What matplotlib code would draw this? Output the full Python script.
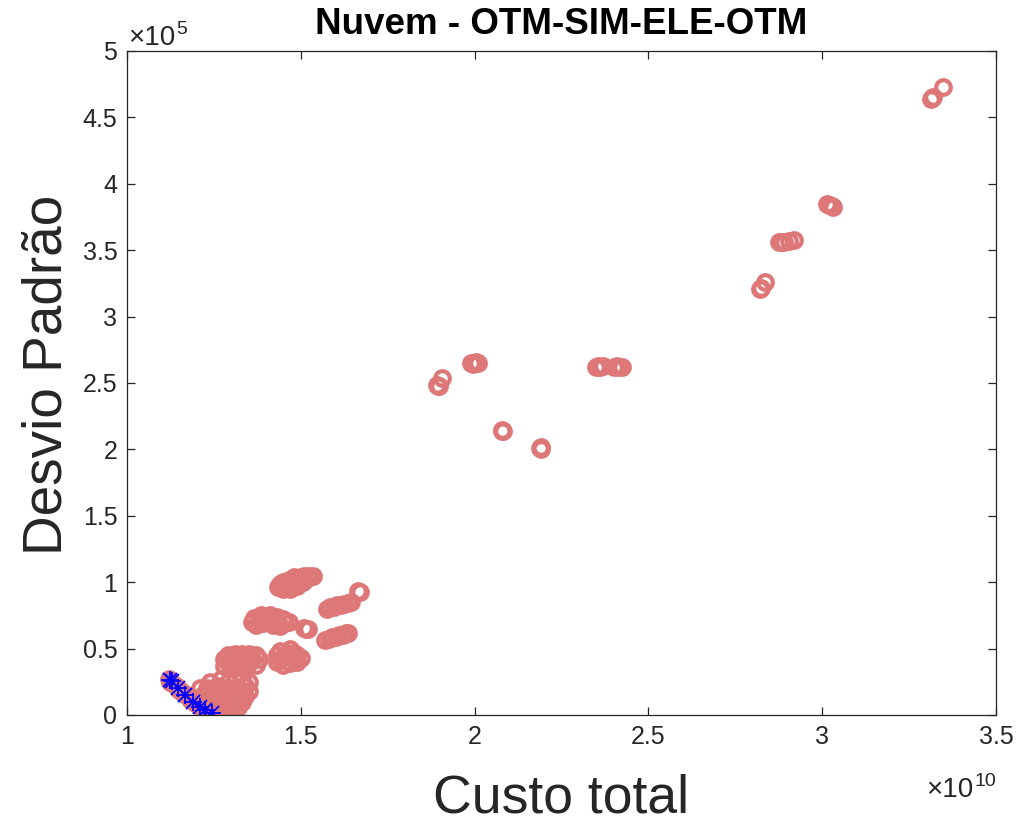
import numpy as np
import matplotlib
matplotlib.use("Agg")
import matplotlib.pyplot as plt
from matplotlib.ticker import FuncFormatter, MultipleLocator
from matplotlib.transforms import IdentityTransform

plt.rcParams['font.family'] = ['Liberation Sans', 'DejaVu Sans']

# custo total (x 1e10) e desvio padrao (x 1e5) de cada solucao da nuvem
nuvem_custo = [
    # faixa inferior (fronteira)
    1.12, 1.125, 1.13, 1.14, 1.15, 1.155, 1.165, 1.17, 1.18, 1.185, 1.195,
    1.20, 1.21, 1.215, 1.225, 1.23, 1.24, 1.245, 1.21, 1.215, 1.20,
    # bloco H
    1.22, 1.22, 1.23, 1.23, 1.24, 1.24, 1.24, 1.25, 1.25, 1.26, 1.26, 1.26,
    1.27, 1.27, 1.27, 1.28, 1.28, 1.28, 1.29, 1.29, 1.29, 1.30, 1.30, 1.30,
    1.31, 1.31, 1.31, 1.32, 1.32, 1.32, 1.33, 1.33, 1.33, 1.34, 1.34, 1.35, 1.35,
    # bloco G
    1.28, 1.28, 1.29, 1.29, 1.30, 1.30, 1.31, 1.31, 1.32, 1.32, 1.33, 1.33,
    1.34, 1.34, 1.35, 1.35, 1.36, 1.37, 1.37, 1.38,
    # bloco F
    1.43, 1.43, 1.44, 1.44, 1.45, 1.45, 1.46, 1.46, 1.47, 1.47, 1.47, 1.48,
    1.48, 1.49, 1.49, 1.50,
    # bloco B
    1.36, 1.365, 1.37, 1.38, 1.385, 1.39, 1.40, 1.405, 1.41, 1.42, 1.42, 1.43,
    1.435, 1.44, 1.45, 1.455, 1.465,
    # bloco A
    1.435, 1.44, 1.45, 1.45, 1.46, 1.465, 1.47, 1.475, 1.48, 1.49, 1.49, 1.50,
    1.505, 1.51, 1.52, 1.535, 1.525,
    # blocos C, D, E
    1.515, 1.51, 1.52,
    1.575, 1.585, 1.595, 1.605, 1.615, 1.625, 1.635, 1.645, 1.665, 1.669,
    1.57, 1.58, 1.59, 1.60, 1.61, 1.62, 1.63, 1.635,
    # solucoes isoladas
    1.895, 1.898, 1.892, 1.905,
    1.99, 1.994, 2.005, 2.01,
    2.078, 2.082, 2.08,
    2.188, 2.192, 2.19,
    2.35, 2.355, 2.36, 2.37, 2.40, 2.41, 2.415, 2.425,
    2.82, 2.823, 2.835,
    2.875, 2.88, 2.89, 2.905, 2.918,
    3.013, 3.02, 3.027, 3.03,
    3.312, 3.316, 3.320, 3.347,
]
nuvem_desvio = [
    0.27, 0.25, 0.24, 0.22, 0.19, 0.18, 0.16, 0.15, 0.12, 0.11, 0.09,
    0.08, 0.06, 0.05, 0.035, 0.03, 0.02, 0.01, 0.20, 0.14, 0.13,
    0.10, 0.16, 0.06, 0.20, 0.03, 0.13, 0.25, 0.08, 0.18, 0.04, 0.12, 0.22,
    0.08, 0.16, 0.27, 0.04, 0.12, 0.20, 0.08, 0.16, 0.25, 0.05, 0.12, 0.20,
    0.09, 0.17, 0.26, 0.06, 0.13, 0.21, 0.10, 0.18, 0.26, 0.14, 0.22, 0.18, 0.25,
    0.37, 0.42, 0.39, 0.45, 0.36, 0.42, 0.39, 0.46, 0.36, 0.43, 0.39, 0.46,
    0.36, 0.42, 0.39, 0.46, 0.42, 0.38, 0.45, 0.42,
    0.40, 0.45, 0.42, 0.48, 0.38, 0.44, 0.41, 0.47, 0.39, 0.44, 0.50, 0.42,
    0.47, 0.40, 0.45, 0.43,
    0.70, 0.73, 0.68, 0.72, 0.75, 0.69, 0.73, 0.70, 0.75, 0.68, 0.72, 0.74,
    0.70, 0.67, 0.72, 0.69, 0.70,
    0.96, 0.99, 0.95, 1.00, 0.97, 1.02, 0.95, 0.99, 1.04, 0.97, 1.01, 1.04,
    1.00, 1.05, 1.05, 1.05, 1.04,
    0.65, 0.655, 0.645,
    0.80, 0.81, 0.815, 0.825, 0.83, 0.835, 0.84, 0.85, 0.93, 0.925,
    0.565, 0.575, 0.585, 0.59, 0.60, 0.605, 0.615, 0.62,
    2.48, 2.475, 2.485, 2.54,
    2.65, 2.645, 2.655, 2.65,
    2.14, 2.135, 2.145,
    2.01, 2.005, 2.015,
    2.62, 2.625, 2.62, 2.625, 2.62, 2.625, 2.62, 2.62,
    3.21, 3.215, 3.26,
    3.56, 3.565, 3.565, 3.57, 3.575,
    3.845, 3.84, 3.83, 3.825,
    4.64, 4.645, 4.65, 4.73,
]

# solucoes nao dominadas
pareto_custo = [1.124, 1.128, 1.147, 1.167, 1.19, 1.21, 1.224, 1.245]
pareto_desvio = [0.264, 0.255, 0.203, 0.151, 0.098, 0.06, 0.038, 0.015]

x = np.array(nuvem_custo) * 1e10
y = np.array(nuvem_desvio) * 1e5
px = np.array(pareto_custo) * 1e10
py = np.array(pareto_desvio) * 1e5

cinza = '#262626'

fig = plt.figure(figsize=(10.18, 8.22), dpi=100)
ax = fig.add_axes([0.1248, 0.1302, 0.8536, 0.8078])

ax.plot(x, y, 'o', ms=10.5, mfc='none', mec='#DE7777', mew=3.0, ls='none')
# asterisco estilo matlab: + sobreposto a x
ax.plot(px, py, '+', ms=13, color='#0000FF', mew=1.3, ls='none')
ax.plot(px, py, 'x', ms=9.5, color='#0000FF', mew=1.3, ls='none')

ax.set_xlim(1e10, 3.5e10)
ax.set_ylim(0, 5e5)
ax.xaxis.set_major_locator(MultipleLocator(0.5e10))
ax.yaxis.set_major_locator(MultipleLocator(0.5e5))
ax.xaxis.set_major_formatter(FuncFormatter(lambda v, p: f'{v / 1e10:g}'))
ax.yaxis.set_major_formatter(FuncFormatter(lambda v, p: f'{v / 1e5:g}'))

ax.tick_params(direction='in', top=True, right=True, length=6, width=0.9,
               labelsize=18, colors=cinza, pad=7)
for s in ax.spines.values():
    s.set_color(cinza)
    s.set_linewidth(0.9)

ax.set_title('Nuvem - OTM-SIM-ELE-OTM', fontsize=26.5, fontweight='bold', pad=12)
ax.set_xlabel('Custo total', fontsize=38.5, color=cinza, labelpad=18)
ax.set_ylabel('Desvio Padrão', fontsize=39.5, color=cinza)
ax.yaxis.set_label_coords(-0.062, 0.512)


def fator(xd, yd, expoente, direita=False):
    # escreve "x10^n" em pixels, com o expoente como sobrescrito
    base = ax.text(xd, yd, '\u00d710', transform=IdentityTransform(),
                   ha='left', va='baseline', fontsize=20, color=cinza)
    sup = ax.text(0, 0, expoente, transform=IdentityTransform(),
                  ha='left', va='baseline', fontsize=14, color=cinza)
    fig.canvas.draw()
    r = fig.canvas.get_renderer()
    wb = base.get_window_extent(r).width
    ws = sup.get_window_extent(r).width
    x0 = xd - (wb + ws + 1) if direita else xd
    base.set_position((x0, yd))
    sup.set_position((x0 + wb + 1, yd + 11))


bbox = ax.get_window_extent()
fator(bbox.x0 + 1, bbox.y1 + 6, '5')
fator(bbox.x1, bbox.y0 - 82, '10', direita=True)

fig.savefig('out.png', dpi=100)
